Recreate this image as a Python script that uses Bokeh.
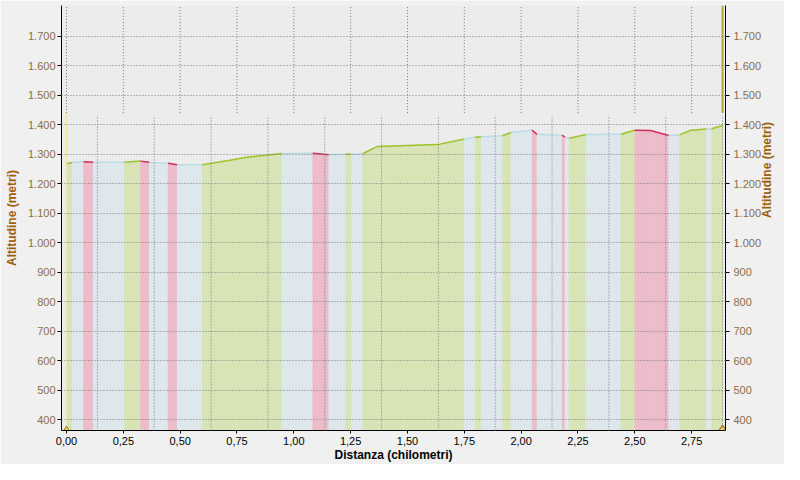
import math
from bokeh.plotting import figure
from bokeh.models import Range1d, LinearAxis, FixedTicker, ColumnDataSource
from bokeh.embed import file_html
from bokeh.resources import INLINE

# ---- data ----
dist_km = [0.000, 0.026, 0.075, 0.118, 0.254, 0.325, 0.364, 0.447, 0.487, 0.596,
           0.719, 0.785, 0.886, 0.947, 1.083, 1.154, 1.228, 1.254, 1.303, 1.368,
           1.632, 1.750, 1.798, 1.825, 1.917, 1.956, 2.048, 2.070, 2.180, 2.193,
           2.211, 2.285, 2.439, 2.500, 2.570, 2.649, 2.697, 2.746, 2.816, 2.838, 2.886]
alt_m = [1268, 1272, 1275, 1273, 1273, 1277, 1273, 1270, 1265, 1265,
         1280, 1289, 1298, 1303, 1304, 1299, 1300, 1300, 1302, 1327,
         1333, 1352, 1358, 1360, 1363, 1374, 1382, 1368, 1365, 1358,
         1355, 1367, 1368, 1382, 1381, 1364, 1366, 1382, 1386, 1387, 1398]
# slope class of each interval: U = uphill, D = downhill, F = flat
slope = ["U", "F", "D", "F", "U", "D", "F", "D", "F", "U",
         "U", "U", "U", "F", "D", "F", "U", "F", "U", "U",
         "U", "F", "U", "F", "U", "F", "D", "F", "D", "F",
         "U", "F", "U", "D", "D", "F", "U", "U", "F", "U"]
x_ticks = [0.0, 0.25, 0.5, 0.75, 1.0, 1.25, 1.5, 1.75, 2.0, 2.25, 2.5, 2.75]
y_ticks = [400, 500, 600, 700, 800, 900, 1000, 1100, 1200, 1300, 1400, 1500, 1600, 1700]

# ---- styles ----
FILL = {"U": "#d9e4b6", "D": "#ecbccb", "F": "#dee7eb"}
LINE = {"U": "#9cc32c", "D": "#d42a5c", "F": "#b9dde6"}
FONT = "Liberation Sans"
X_LO, X_HI = -0.022, 2.899
Y_LO, Y_HI = 362.7, 1805.2
SPLIT_HI, SPLIT_LO = 1440, 1433
GRID = "#7a7a7a"

p = figure(width=784, height=464, output_backend="svg", toolbar_location=None,
           x_range=Range1d(X_LO, X_HI), y_range=Range1d(Y_LO, Y_HI),
           min_border_left=61, min_border_right=57, min_border_top=5, min_border_bottom=34)
p.background_fill_color = "#ececec"
p.border_fill_color = "#f0f0f0"
p.outline_line_color = None
p.xgrid.visible = False
p.ygrid.ticker = FixedTicker(ticks=y_ticks)
p.ygrid.grid_line_color = GRID
p.ygrid.grid_line_dash = "1 2"
p.ygrid.level = "overlay"

# bands under the profile
n = len(slope)
band = ColumnDataSource(dict(
    xs=[[dist_km[i], dist_km[i], dist_km[i + 1], dist_km[i + 1]] for i in range(n)],
    ys=[[0, alt_m[i], alt_m[i + 1], 0] for i in range(n)],
    fill=[FILL[s] for s in slope],
))
p.patches("xs", "ys", source=band, fill_color="fill", line_color="fill", line_width=0.5)

seg = ColumnDataSource(dict(
    x0=dist_km[:-1], y0=alt_m[:-1], x1=dist_km[1:], y1=alt_m[1:],
    c=[LINE[s] for s in slope],
))
p.segment("x0", "y0", "x1", "y1", source=seg, line_color="c", line_width=1.5)

# vertical grid: upper set at the ticks, lower set aligned with track end
end_km = dist_km[-1]
shift = end_km - x_ticks[-1]
p.segment(x0=x_ticks, y0=[SPLIT_HI] * len(x_ticks), x1=x_ticks, y1=[Y_HI] * len(x_ticks),
          line_color=GRID, line_dash="1 2", level="overlay")
low_x = [t + shift for t in x_ticks]
p.segment(x0=low_x, y0=[Y_LO] * len(low_x), x1=low_x, y1=[SPLIT_LO] * len(low_x),
          line_color=GRID, line_dash="1 2", level="overlay")

# start / end markers
p.segment(x0=[dist_km[0]], y0=[Y_LO], x1=[dist_km[0]], y1=[SPLIT_HI],
          line_color="#f2e6a0", line_width=1.5)
p.segment(x0=[end_km], y0=[SPLIT_HI], x1=[end_km], y1=[Y_HI],
          line_color="#b5a23a", line_width=2)
p.scatter(x=[dist_km[0]], y=[Y_LO], marker="triangle", size=8,
          fill_color="#f0d050", line_color="#a08020")
p.scatter(x=[end_km], y=[Y_LO], marker="diamond", size=11,
          fill_color="#f0d050", line_color="#806010")

# axes
Y_TITLE = "Altitudine (metri)"
def style_y(ax):
    ax.ticker = FixedTicker(ticks=y_ticks)
    ax.major_label_overrides = {t: f"{t:,}".replace(",", ".") for t in y_ticks}
    ax.minor_tick_line_color = None
    ax.major_tick_in = 0
    ax.major_tick_out = 4
    ax.major_label_standoff = 2
    ax.major_label_text_font = FONT
    ax.major_label_text_font_size = "11px"
    ax.major_label_text_color = "#8a6e48"
    ax.axis_line_color = "black"
    ax.major_tick_line_color = "black"
    ax.axis_label = Y_TITLE
    ax.axis_label_text_font = FONT
    ax.axis_label_text_font_size = "12px"
    ax.axis_label_text_font_style = "bold"
    ax.axis_label_text_color = "#9c5f0a"

yl = p.yaxis[0]
style_y(yl)
yl.axis_label_standoff = 6

yr = LinearAxis()
style_y(yr)
yr.major_label_standoff = 4
yr.major_label_text_align = "left"
yr.axis_label_standoff = 3
try:
    yr.axis_label_orientation = math.pi / 2
except Exception:
    pass
p.add_layout(yr, "right")

xa = p.xaxis[0]
xa.ticker = FixedTicker(ticks=x_ticks)
xa.major_label_overrides = {t: f"{t:.2f}".replace(".", ",") for t in x_ticks}
xa.minor_tick_line_color = None
xa.major_tick_in = 0
xa.major_tick_out = 3
xa.major_label_standoff = 3
xa.major_label_text_font = FONT
xa.major_label_text_font_size = "11px"
xa.major_label_text_color = "black"
xa.axis_label = "Distanza (chilometri)"
xa.axis_label_standoff = 0
xa.axis_label_text_font = FONT
xa.axis_label_text_font_size = "12px"
xa.axis_label_text_font_style = "bold"
xa.axis_label_text_color = "black"
xa.axis_line_color = "black"

open("out.html", "w").write(file_html(p, INLINE))
